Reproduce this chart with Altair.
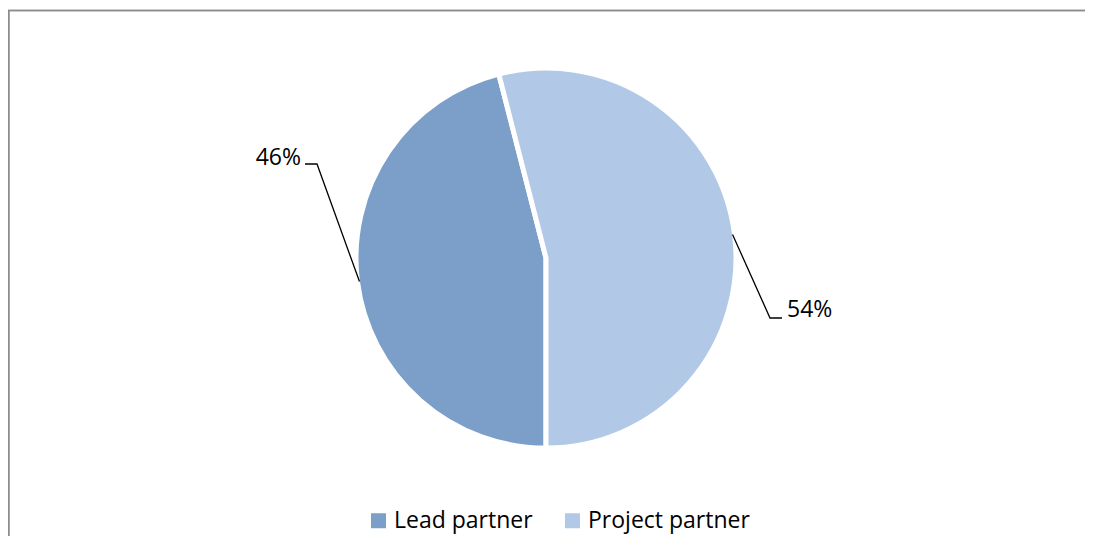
import math
import altair as alt
import pandas as pd

# ---- data ----
categories = ["Lead partner", "Project partner"]
shares = [46, 54]
colors = ["#7B9FC8", "#B1C9E7"]

# ---- layout (view coordinates; page = view + 8) ----
W, H = 1077, 528
CX, CY, R = 538, 250, 188
START = math.pi  # first slice starts at 6 o'clock, clockwise
FONT = "Open Sans"
FS = 23

# label placement (elbow of leader, end of leader, text anchor)
elbow = {"Lead partner": (309, 156), "Project partner": (762, 310)}
lend = {"Lead partner": (297, 156), "Project partner": (774, 310)}
anchor = {"Lead partner": (293, 150), "Project partner": (779, 302)}

df = pd.DataFrame({"category": categories, "share": shares})

total = float(sum(shares))
rows, labels = [], []
cum = 0.0
for c, s in zip(categories, shares):
    mid = START + 2 * math.pi * (cum + s / 2) / total
    cum += s
    p0 = (CX + R * math.sin(mid), CY - R * math.cos(mid))
    for i, p in enumerate([p0, elbow[c], lend[c]]):
        rows.append({"category": c, "i": i, "px": p[0], "py": p[1]})
    labels.append({"category": c, "text": f"{round(100 * s / total)}%",
                   "px": anchor[c][0], "py": anchor[c][1],
                   "align": "right" if c == categories[0] else "left"})
lead_df = pd.DataFrame(rows)
lab_df = pd.DataFrame(labels)

pie = alt.Chart(df).mark_arc(radius=R + 2, stroke="white", strokeWidth=5).encode(
    theta=alt.Theta("share:Q", stack=True,
                    scale=alt.Scale(range=[START, START + 2 * math.pi])),
    color=alt.Color(
        "category:N",
        scale=alt.Scale(domain=categories, range=colors),
        legend=alt.Legend(
            title=None, orient="none", direction="horizontal",
            legendX=359, legendY=501,
            symbolType="square", symbolSize=225, symbolStrokeWidth=0,
            labelFont=FONT, labelFontSize=FS, labelColor="#000000",
            labelOffset=4, columnPadding=28, padding=0, labelLimit=400,
        ),
    ),
    order=alt.Order("category:N"),
    x=alt.value(CX),
    y=alt.value(CY),
)

leaders = alt.Chart(lead_df).mark_line(color="#000000", strokeWidth=1.3).encode(
    x=alt.X("px:Q", scale=None, axis=None),
    y=alt.Y("py:Q", scale=None, axis=None),
    detail="category:N",
    order="i:Q",
)

lab_l = alt.Chart(lab_df[lab_df["align"] == "right"]).mark_text(
    align="right", baseline="middle", font=FONT, fontSize=FS, color="#000000"
).encode(x=alt.X("px:Q", scale=None), y=alt.Y("py:Q", scale=None), text="text:N")
lab_r = alt.Chart(lab_df[lab_df["align"] == "left"]).mark_text(
    align="left", baseline="middle", font=FONT, fontSize=FS, color="#000000"
).encode(x=alt.X("px:Q", scale=None), y=alt.Y("py:Q", scale=None), text="text:N")

border_top = alt.Chart(df).mark_rule(color="#8C8C8C", strokeWidth=1.5).encode(
    x=alt.value(0), x2=alt.value(W), y=alt.value(2.5)
)
border_left = alt.Chart(df).mark_rule(color="#8C8C8C", strokeWidth=1.5).encode(
    x=alt.value(0.75), y=alt.value(2.5), y2=alt.value(H)
)

chart = alt.layer(border_top, border_left, pie, leaders, lab_l, lab_r).properties(
    width=W, height=H, padding=0, autosize=alt.AutoSizeParams(type="none"),
    background="white",
).configure_view(stroke=None)

chart.save("out.html", embed_options={"renderer": "svg", "actions": False})
